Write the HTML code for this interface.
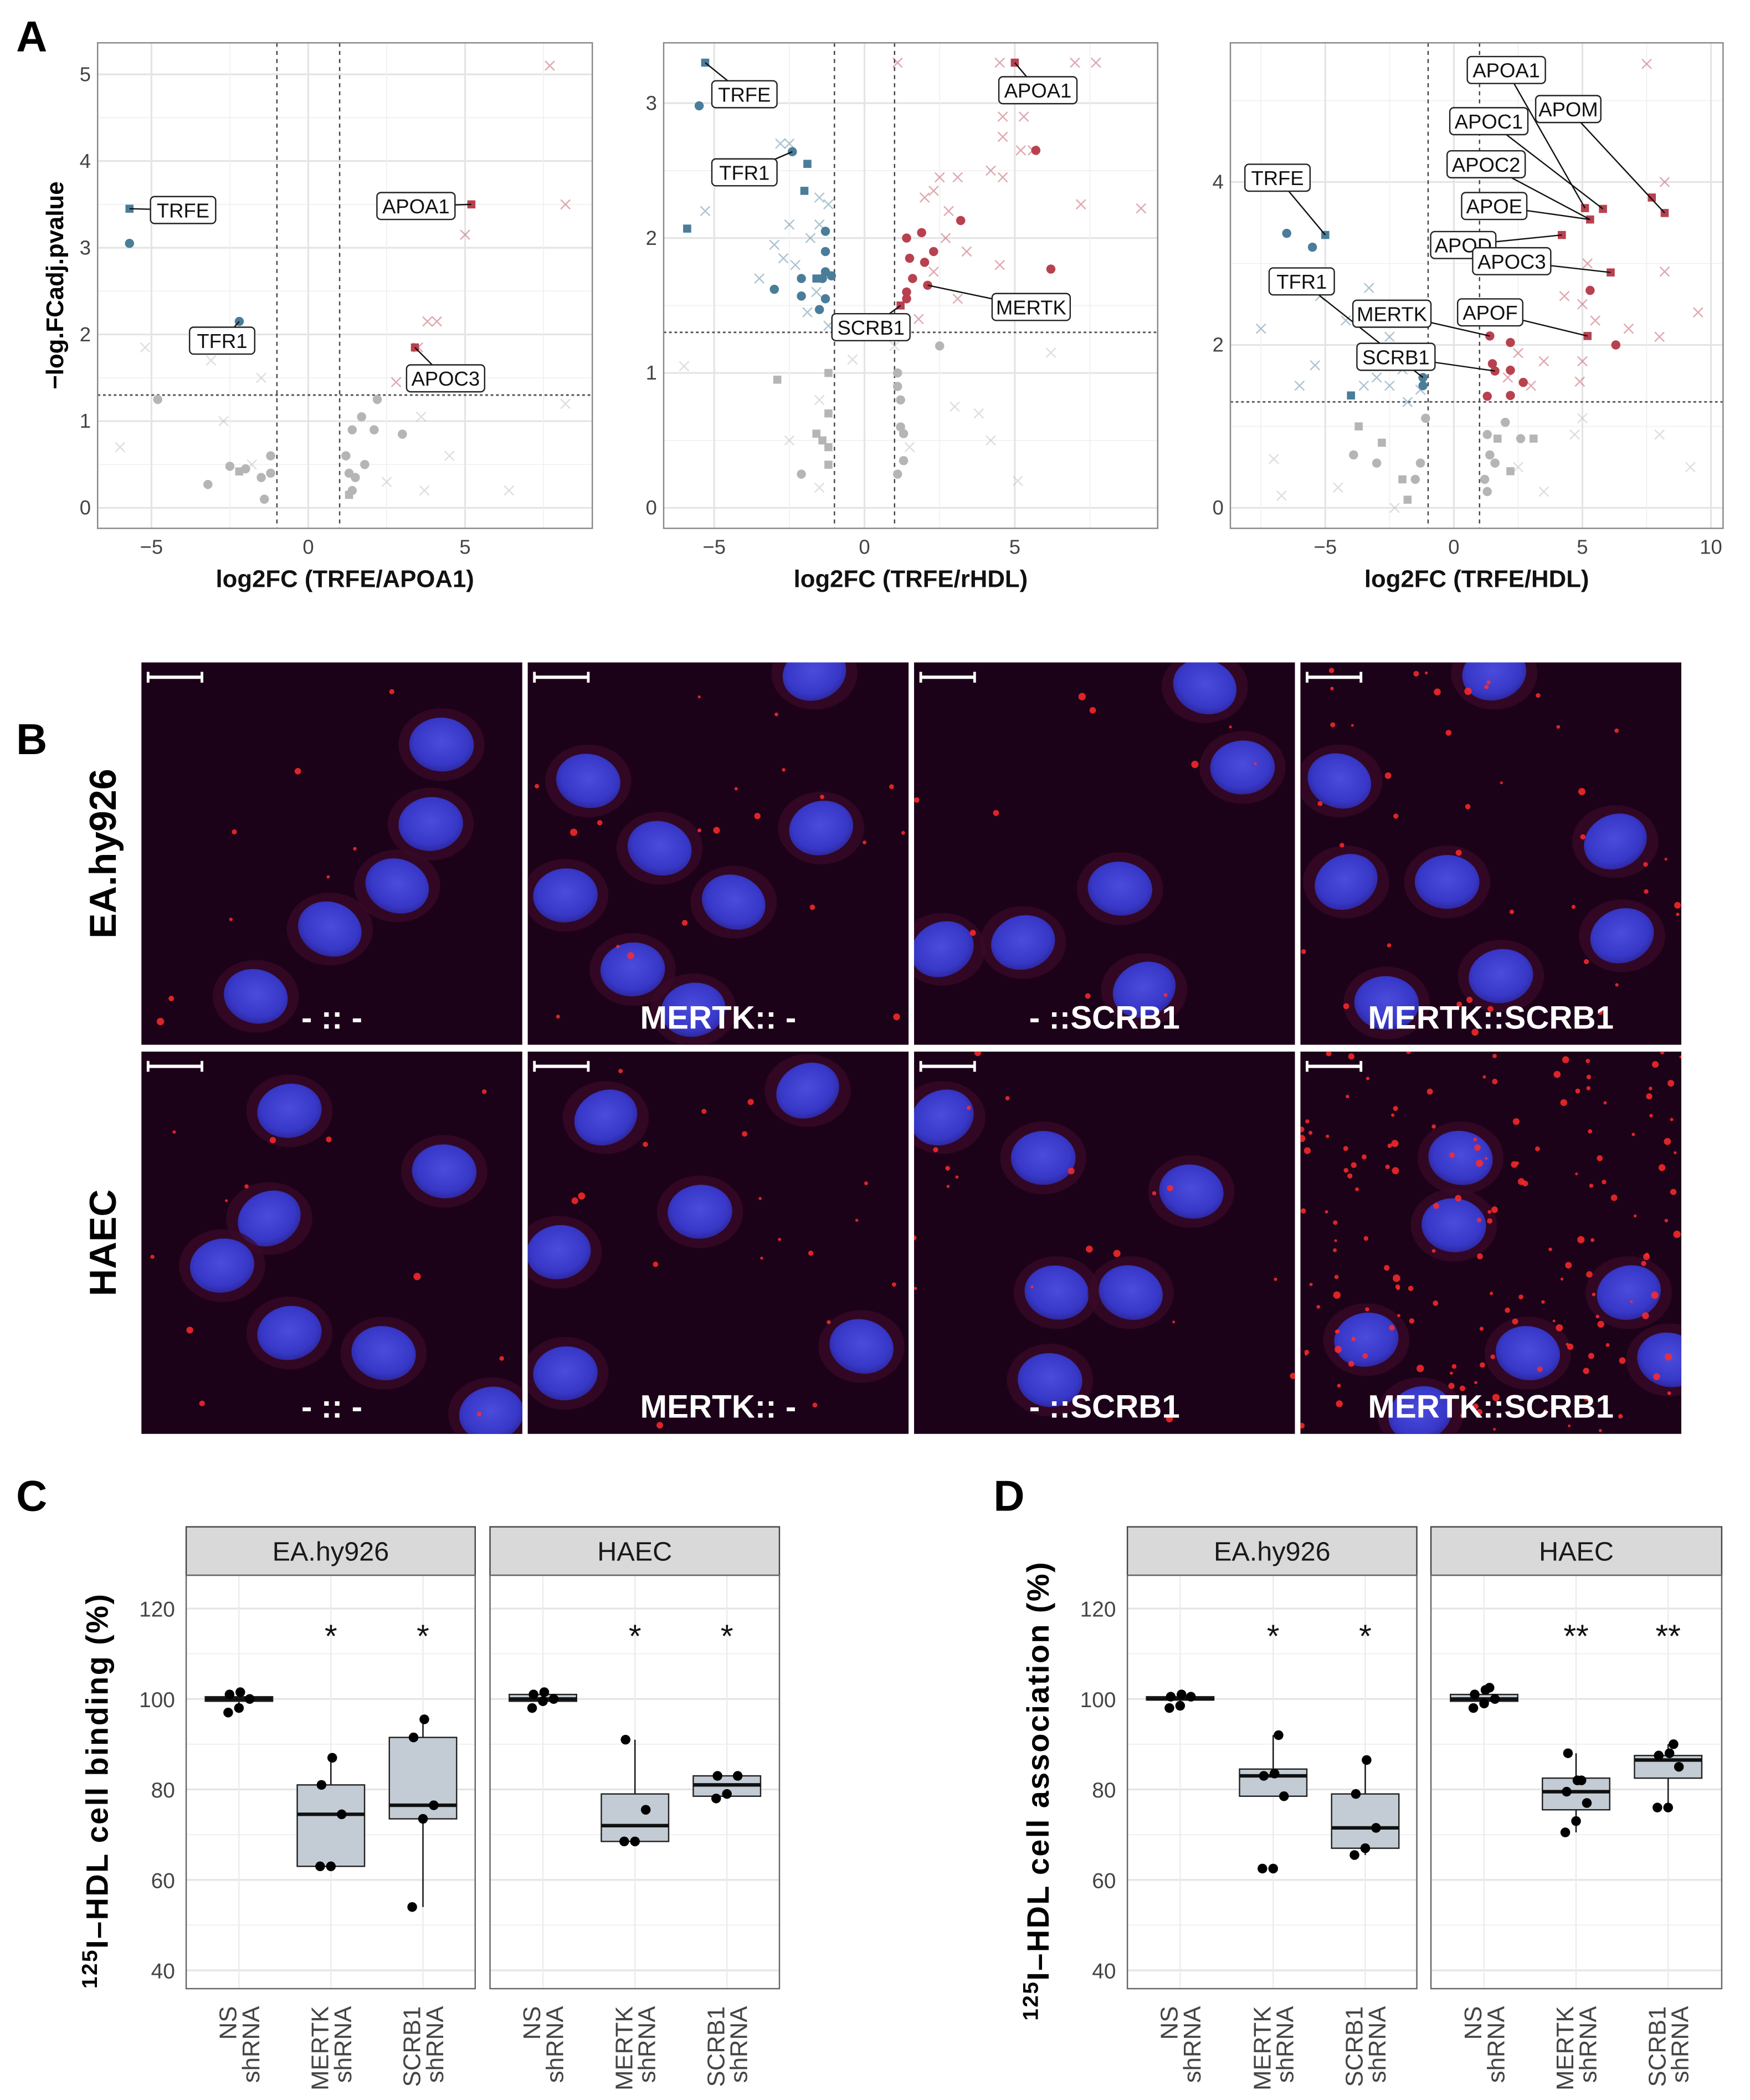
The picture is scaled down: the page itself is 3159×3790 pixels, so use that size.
<!DOCTYPE html>
<html><head><meta charset="utf-8"><style>
html,body{margin:0;padding:0;background:#fff}
svg{display:block}
text{font-family:"Liberation Sans",sans-serif}
</style></head><body>
<svg id="fig" xmlns="http://www.w3.org/2000/svg" width="3159" height="3790" viewBox="0 0 1300 1559.7">
<defs>
<radialGradient id="nuc" cx="50%" cy="45%" r="60%"><stop offset="0" stop-color="#4c4cdc"/><stop offset="0.7" stop-color="#3838c8"/><stop offset="1" stop-color="#2a2290"/></radialGradient>
</defs>
<rect width="1300" height="1560" fill="#fff"/>
<g id="panelA"></g>
<g id="panelB"></g>
<g id="panelCD"></g>
</svg>
<script>
// ---------- Panel A data ----------
const v1x=[-5.7,-5.7,-2.2,5.2,3.4,7.7,8.2,5,3.8,4.1,3.5,2.8,3.3,-5.2,-3.1,-1.5,-6,-2.7,3.6,4.5,6.4,3.7,8.2,-1.8,2.5,-4.8,-3.2,-2.5,-2.0,-1.5,-1.2,-1.2,-1.4,2.2,1.7,2.1,3,1.4,1.2,1.3,1.5,1.8,1.4,-2.2,1.3];
const v1y=[3.45,3.05,2.15,3.5,1.85,5.1,3.5,3.15,2.15,2.15,1.85,1.45,1.5,1.85,1.7,1.5,0.7,1.0,1.05,0.6,0.2,0.2,1.2,0.5,0.3,1.25,0.27,0.48,0.45,0.35,0.6,0.4,0.1,1.25,1.05,0.9,0.85,0.9,0.6,0.4,0.35,0.5,0.2,0.42,0.15];
const v1t=['bs','bc','bc','rs','rs','rx','rx','rx','rx','rx','rx','rx','rx','gx','gx','gx','gx','gx','gx','gx','gx','gx','gx','gx','gx','gc','gc','gc','gc','gc','gc','gc','gc','gc','gc','gc','gc','gc','gc','gc','gc','gc','gc','gs','gs'];
const v2x=[-5.3,-5.5,-2.4,-1.9,-2,-5.9,-1.3,-1.3,-1.3,-1.4,-2.1,-1.1,-3,-2.1,-1.3,-1.5,-1.6,5,5.7,6.2,3.2,1.9,1.4,2.3,1.5,2.0,1.6,1.4,2.1,1.4,1.2,1.1,4.5,7,7.7,5.3,4.6,4.6,5.6,5.2,4.2,2.5,3.1,4.6,7.2,9.2,2,2.3,3.4,4.5,2.8,2.7,1.8,3.1,2.3,-2.8,-2.5,-5.3,-1.5,-3,-2.5,-1.8,-1.2,-2.3,-1.6,-1.9,-3.5,-1.2,-2.7,-1.5,-2.9,-1.2,-1.4,-1.6,-1.2,-1.2,-1.2,-2.1,2.5,1.1,1.1,1.2,1.2,1.3,1.1,1.3,-6,-1.5,-2.5,1.5,3,4.2,5.1,6.2,3.8,-0.4,1,-1.5];
const v2y=[3.3,2.98,2.64,2.55,2.35,2.07,2.05,1.9,1.75,1.7,1.7,1.72,1.62,1.57,1.55,1.47,1.7,3.3,2.65,1.77,2.13,2.04,2.0,1.9,1.85,1.82,1.7,1.55,1.65,1.6,1.5,3.3,3.3,3.3,3.3,2.9,2.9,2.75,2.65,2.65,2.5,2.45,2.45,2.45,2.25,2.22,2.3,2.35,1.9,1.8,2.2,2.0,1.4,1.55,1.75,2.7,2.7,2.2,2.3,1.95,2.1,2.0,2.25,1.8,1.6,1.45,1.7,1.35,1.85,2.1,0.95,1.0,0.5,0.55,0.7,0.45,0.32,0.25,1.2,1.0,0.9,0.8,0.6,0.35,0.25,0.55,1.05,0.8,0.5,0.45,0.75,0.5,0.2,1.15,0.7,1.1,1.2,0.15];
const v2t=['bs','bc','bc','bs','bs','bs','bc','bc','bc','bc','bc','bc','bc','bc','bc','bc','bs','rs','rc','rc','rc','rc','rc','rc','rc','rc','rc','rc','rc','rc','rs','rx','rx','rx','rx','rx','rx','rx','rx','rx','rx','rx','rx','rx','rx','rx','rx','rx','rx','rx','rx','rx','rx','rx','rx','bx','bx','bx','bx','bx','bx','bx','bx','bx','bx','bx','bx','bx','bx','bx','gs','gs','gs','gs','gs','gs','gs','gc','gc','gc','gc','gc','gc','gc','gc','gc','gx','gx','gx','gx','gx','gx','gx','gx','gx','gx','gx','gx'];
const v3x=[-5,-6.5,-5.5,-4,-1.2,-1.2,5.1,5.8,5.3,8.2,7.7,4.2,6.1,5.2,5.3,6.3,1.4,2.2,1.6,2.2,2.7,2.2,1.3,1.5,7.5,8.2,8.2,9.5,5,5.5,8,6.8,3.5,2.5,4.9,3.0,5,2.1,4.3,5.2,-6,-3.3,-5.2,-7.5,-4.2,-2.5,-1.5,-1.5,-2.0,-3.0,-1.3,-2.5,-1.3,-5.4,-6,-3.5,-1.8,-3.7,-2.8,-2.0,-1.8,1.7,3.1,2.2,-3.9,-3.0,-1.3,-1.5,1.3,1.4,1.6,2.6,1.2,1.3,2.0,-1.1,-7,-4.5,-6.7,4.7,8,9.2,2.5,-2.3,3.5,5];
const v3y=[3.35,3.37,3.2,1.38,1.6,1.5,3.68,3.67,3.54,3.62,3.81,3.35,2.89,2.11,2.67,2.0,2.11,2.03,1.68,1.69,1.54,1.38,1.37,1.77,5.45,4.0,2.9,2.4,2.5,2.3,2.1,2.2,1.8,1.9,1.55,1.5,1.8,1.6,2.6,3.0,2.8,2.7,2.6,2.2,2.3,2.1,2.3,1.9,1.7,1.6,1.8,1.5,1.45,1.75,1.5,1.5,1.3,1.0,0.8,0.35,0.1,0.85,0.85,0.45,0.65,0.55,0.55,0.35,0.9,0.65,0.55,0.85,0.35,0.2,1.05,1.1,0.6,0.25,0.15,0.9,0.9,0.5,0.5,0.0,0.2,1.1];
const v3t=['bs','bc','bc','bs','bc','bc','rs','rs','rs','rs','rs','rs','rs','rs','rc','rc','rc','rc','rc','rc','rc','rc','rc','rc','rx','rx','rx','rx','rx','rx','rx','rx','rx','rx','rx','rx','rx','rx','rx','rx','bx','bx','bx','bx','bx','bx','bx','bx','bx','bx','bx','bx','bx','bx','bx','bx','bx','gs','gs','gs','gs','gs','gs','gs','gc','gc','gc','gc','gc','gc','gc','gc','gc','gc','gc','gc','gx','gx','gx','gx','gx','gx','gx','gx','gx','gx'];
const lab1=['TRFE','TFR1','APOA1','APOC3'];
const lab1x=[-5.7,-2.2,5.2,3.4];
const lab1y=[3.45,2.15,3.5,1.85];
const lab2=['TRFE','TFR1','APOA1','MERTK','SCRB1'];
const lab2x=[-5.3,-2.4,5,2.1,1.2];
const lab2y=[3.3,2.64,3.3,1.65,1.5];
const lab3=['TRFE','APOA1','APOM','APOC1','APOC2','APOE','APOD','APOC3','TFR1','MERTK','APOF','SCRB1'];
const lab3x=[-5,5.1,8.2,5.8,5.3,5.3,4.2,6.1,-1.2,1.4,5.2,1.6];
const lab3y=[3.35,3.68,3.62,3.67,3.54,3.54,3.35,2.89,1.6,2.11,2.11,1.68];

// ---------- Panel C/D data ----------
const cats=['NS','MERTK','SCRB1'];
const cellLines=['EA.hy926','HAEC'];
const yTicks=[40,60,80,100,120];
const cQ1=[99.5,63,73.5,99.5,68.5,78.5];
const cMed=[100,74.5,76.5,100,72,81];
const cQ3=[100.5,81,91.5,101,79,83];
const cLo=[99,63,54,99,68.5,78];
const cHi=[101,87,95.5,101.5,91,83];
const cPts=[[97,98,100,101,101.5],[63,63,74.5,81,87],[54,73.5,76.5,91.5,95.5],[98,99.5,100,101,101.5],[68.5,68.5,75.5,91],[78,79,83,83]];
const cStar=['','*','*','','*','*'];
const dQ1=[99.8,78.5,67,99.5,75.5,82.5];
const dMed=[100,83,71.5,100,79.5,86.5];
const dQ3=[100.5,84.5,79,101,82.5,87.5];
const dLo=[99.5,78.5,65.5,99.5,70.5,76];
const dHi=[101,92,86.5,102.5,88,90];
const dPts=[[98,98.5,100.5,100.5,101],[62.5,62.5,78.5,83,83.5,92],[65.5,67,71.5,79,86.5],[98,99,100,101,102,102.5],[70.5,73,77,79.5,82,82,88],[76,76,85,87.5,88,90]];
const dStar=['','*','*','','**','**'];

const NS='http://www.w3.org/2000/svg';
function el(tag,attrs,parent,txt){const e=document.createElementNS(NS,tag);for(const k in attrs)e.setAttribute(k,attrs[k]);if(txt!==undefined)e.textContent=txt;parent.appendChild(e);return e;}

const A=document.getElementById('panelA');
const pl=el('text',{x:12,y:38,'font-size':32,'font-weight':'bold'},A,'A');


const vols=[
 {px0:72.5,px1:440,x0:229,kx:23.3,yk:64.4,xT:[-5,0,5],xm:[-7.5,-2.5,2.5,7.5],yT:[0,1,2,3,4,5],xl:'log2FC (TRFE/APOA1)',xs:v1x,ys:v1y,ts:v1t,lab:lab1,lx:lab1x,ly:lab1y,
  boxes:[[136,156],[165,253],[309,153],[331,281]],name:'volcano-apoa1'},
 {px0:493,px1:860,x0:642.2,kx:22.33,yk:100.2,xT:[-5,0,5],xm:[-7.5,-2.5,2.5,7.5],yT:[0,1,2,3],xl:'log2FC (TRFE/rHDL)',xs:v2x,ys:v2y,ts:v2t,lab:lab2,lx:lab2x,ly:lab2y,
  boxes:[[553,70],[553,128],[771,67],[766,228],[647,243]],name:'volcano-rhdl'},
 {px0:914,px1:1280,x0:1080,kx:19.1,yk:60.5,xT:[-5,0,5,10],xm:[-7.5,-2.5,2.5,7.5],yT:[0,2,4],xl:'log2FC (TRFE/HDL)',xs:v3x,ys:v3y,ts:v3t,lab:lab3,lx:lab3x,ly:lab3y,
  boxes:[[949,132],[1119,52],[1165,81],[1106,90],[1104,122],[1110,153],[1087,182],[1123,194],[967,209],[1034,233],[1107,232],[1037,265]],name:'volcano-hdl'}
];
const col={b:'#4a7d99',r:'#b8414f',g:'#b5b5b5'};
vols.forEach((v,i)=>{
  const g=el('g',{},A);
  
  
  const X=d=>v.x0+d*v.kx, Y=d=>377.2-d*v.yk;
  const top=31.8,bot=392.4;
  el('rect',{x:v.px0,y:top,width:v.px1-v.px0,height:bot-top,fill:'#fff'},g);
  v.yT.forEach(t=>{el('line',{x1:v.px0,x2:v.px1,y1:Y(t),y2:Y(t),stroke:'#e4e4e4','stroke-width':1.3},g);
    const h=(v.yT[1]-v.yT[0])/2;
    if(Y(t+h)>top) el('line',{x1:v.px0,x2:v.px1,y1:Y(t+h),y2:Y(t+h),stroke:'#f0f0f0','stroke-width':0.7},g);
    const tl=el('text',{x:v.px0-5,y:Y(t)+5,'font-size':15,'text-anchor':'end',fill:'#444'},g,String(t));
    
    
  });
  v.xT.forEach(t=>{el('line',{x1:X(t),x2:X(t),y1:top,y2:bot,stroke:'#e4e4e4','stroke-width':1.3},g);
    const tl=el('text',{x:X(t),y:bot+19,'font-size':15,'text-anchor':'middle',fill:'#444'},g,t<0?'\u2212'+(-t):String(t));
    
    
  });
  v.xm.forEach(t=>{if(X(t)>v.px0&&X(t)<v.px1)el('line',{x1:X(t),x2:X(t),y1:top,y2:bot,stroke:'#f0f0f0','stroke-width':0.7},g);});
  el('line',{x1:X(-1),x2:X(-1),y1:top,y2:bot,stroke:'#444','stroke-dasharray':'3,3','stroke-width':1},g);
  el('line',{x1:X(1),x2:X(1),y1:top,y2:bot,stroke:'#444','stroke-dasharray':'3,3','stroke-width':1},g);
  el('line',{x1:v.px0,x2:v.px1,y1:Y(1.301),y2:Y(1.301),stroke:'#555','stroke-dasharray':'2,2','stroke-width':1.2},g);
  v.xs.forEach((d,j)=>{
    const t=v.ts[j],c=col[t[0]],cx=X(d),cy=Y(v.ys[j]);let m;
    if(t[1]==='c')m=el('circle',{cx:cx,cy:cy,r:3.4,fill:c},g);
    else if(t[1]==='s')m=el('rect',{x:cx-3,y:cy-3,width:6,height:6,fill:c},g);
    else m=el('path',{d:`M${cx-3.5},${cy-3.5}L${cx+3.5},${cy+3.5}M${cx-3.5},${cy+3.5}L${cx+3.5},${cy-3.5}`,stroke:c,'stroke-width':1,opacity:0.45,fill:'none'},g);
    
    
  });
  v.lab.forEach((L,j)=>{
    const [bx,by]=v.boxes[j];const w=L.length*9.6+10;
    el('line',{x1:bx,y1:by,x2:X(v.lx[j]),y2:Y(v.ly[j]),stroke:'#111','stroke-width':1},g);
    el('rect',{x:bx-w/2,y:by-10,width:w,height:20,rx:3,fill:'#fff',stroke:'#222','stroke-width':1},g);
    const tx=el('text',{x:bx,y:by+5.5,'font-size':15,'text-anchor':'middle',fill:'#111'},g,L);
    
    
  });
  el('rect',{x:v.px0,y:top,width:v.px1-v.px0,height:bot-top,fill:'none',stroke:'#888','stroke-width':1},g);
  const xt=el('text',{x:(v.px0+v.px1)/2,y:436,'font-size':18,'font-weight':'bold','text-anchor':'middle',fill:'#111'},g,v.xl);
  
  
});
const yt=el('text',{x:0,y:0,'font-size':18,'font-weight':'bold','text-anchor':'middle',transform:'translate(47,212) rotate(-90)'},A,'\u2212log.FCadj.pvalue');



// ---------- Panel B ----------
const B=document.getElementById('panelB');
const bl=el('text',{x:12,y:560,'font-size':32,'font-weight':'bold'},B,'B');


const r1=el('text',{x:0,y:0,'font-size':28,'font-weight':'bold','text-anchor':'middle',transform:'translate(86,634) rotate(-90)'},B,'EA.hy926');


const r2=el('text',{x:0,y:0,'font-size':28,'font-weight':'bold','text-anchor':'middle',transform:'translate(86,923) rotate(-90)'},B,'HAEC');


const imgX=[105,392,679,966],imgY=[492,781],iw=283,ih=284;
const capt=['- :: -','MERTK:: -','- ::SCRB1','MERTK::SCRB1'];
const nuclei=[
 [[328,553],[320,612],[295,658],[245,690],[190,740]],
 [[437,580],[490,630],[420,665],[610,615],[545,670],[470,720],[515,750],[605,500]],
 [[923,570],[832,660],[760,700],[700,705],[850,735],[895,510]],
 [[1110,500],[995,580],[1200,625],[1075,655],[1000,655],[1205,695],[1030,745],[1115,725]],
 [[215,825],[200,905],[330,870],[165,940],[215,990],[365,1050],[285,1005]],
 [[450,830],[600,810],[420,1020],[415,930],[520,900],[640,1000]],
 [[775,860],[885,885],[785,960],[780,1025],[840,960],[700,830]],
 [[1085,860],[1080,910],[1210,960],[1015,995],[1135,1005],[1055,1050],[1240,1010]]
];
const dots=[8,20,10,40,12,18,20,160];
let seed=7;function rnd(){seed=(seed*9301+49297)%233280;return seed/233280;}
for(let r=0;r<2;r++)for(let c=0;c<4;c++){
  const k=r*4+c,x0=imgX[c],y0=imgY[r];
  const g=el('g',{},B);
  
  
  el('clipPath',{id:'cp'+k},g);
  el('rect',{x:x0,y:y0,width:iw,height:ih},document.getElementById('cp'+k));
  const gg=el('g',{'clip-path':`url(#cp${k})`},g);
  el('rect',{x:x0,y:y0,width:iw,height:ih,fill:'#1c0218'},gg);
  nuclei[k].forEach(n=>{el('ellipse',{cx:n[0],cy:n[1],rx:32,ry:27,fill:'#3a0a2a',opacity:0.7},gg);
    el('ellipse',{cx:n[0],cy:n[1],rx:24,ry:20,fill:'url(#nuc)',transform:`rotate(${(n[0]%50)-25} ${n[0]} ${n[1]})`},gg);});
  for(let d=0;d<dots[k];d++){const dx=x0+rnd()*iw,dy=y0+rnd()*ih;
    el('circle',{cx:dx,cy:dy,r:1+rnd()*1.8,fill:'#ff2a2a',opacity:0.85},gg);}
  el('line',{x1:x0+5,x2:x0+45,y1:y0+11,y2:y0+11,stroke:'#fff','stroke-width':2.5},gg);
  el('line',{x1:x0+5,x2:x0+5,y1:y0+7,y2:y0+15,stroke:'#fff','stroke-width':2},gg);
  el('line',{x1:x0+45,x2:x0+45,y1:y0+7,y2:y0+15,stroke:'#fff','stroke-width':2},gg);
  const t=el('text',{x:x0+iw/2,y:y0+ih-12,'font-size':24,'font-weight':'bold','text-anchor':'middle',fill:'#fff'},g,capt[c]);
  
  
}

// ---------- Panels C & D ----------
const CD=document.getElementById('panelCD');
const Yb=v=>1463.4-(v-40)*3.359;
function boxPanel(name,letter,lx,ax,strips,catX,q1,md,q3,lo,hi,pts,stars,ytitle){
  const g=el('g',{},CD);
  
  
  const L=el('text',{x:lx,y:1122,'font-size':32,'font-weight':'bold'},g,letter);
  
  
  strips.forEach((s,si)=>{
    el('rect',{x:s[0],y:1134,width:s[1]-s[0],height:36,fill:'#d9d9d9',stroke:'#444','stroke-width':1},g);
    const st=el('text',{x:(s[0]+s[1])/2,y:1159,'font-size':20,'text-anchor':'middle',fill:'#1a1a1a'},g,cellLines[si]);
    
    
    el('rect',{x:s[0],y:1170,width:s[1]-s[0],height:307,fill:'#fff'},g);
    yTicks.forEach(t=>{el('line',{x1:s[0],x2:s[1],y1:Yb(t),y2:Yb(t),stroke:'#e4e4e4','stroke-width':1.3},g);
      if(t<120)el('line',{x1:s[0],x2:s[1],y1:Yb(t+10),y2:Yb(t+10),stroke:'#f0f0f0','stroke-width':0.8},g);});
    for(let c=0;c<3;c++)el('line',{x1:catX[si*3+c],x2:catX[si*3+c],y1:1170,y2:1477,stroke:'#ececec','stroke-width':1},g);
  });
  yTicks.forEach(t=>{const tl=el('text',{x:ax,y:Yb(t)+6,'font-size':16,'text-anchor':'end',fill:'#444'},g,String(t));
    
    });
  for(let i=0;i<6;i++){
    const cx=catX[i],w=25;
    el('line',{x1:cx,x2:cx,y1:Yb(lo[i]),y2:Yb(hi[i]),stroke:'#111','stroke-width':1},g);
    const bx=el('rect',{x:cx-w,y:Yb(q3[i]),width:2*w,height:Math.max(Yb(q1[i])-Yb(q3[i]),1.5),fill:'#c3ccd4',stroke:'#222','stroke-width':1},g);
    
    
    el('line',{x1:cx-w,x2:cx+w,y1:Yb(md[i]),y2:Yb(md[i]),stroke:'#111','stroke-width':2.6},g);
    pts[i].forEach((p,j)=>{const d=el('circle',{cx:cx+((j%3)-1)*6+((j*7)%5-2),cy:Yb(p),r:3.6,fill:'#000'},g);
      
      });
    if(stars[i]){const s=el('text',{x:cx,y:Yb(115)+12,'font-size':24,'text-anchor':'middle',fill:'#111'},g,stars[i]);
      
      }
    const t1=el('text',{x:0,y:0,'font-size':18,'text-anchor':'end',fill:'#444',transform:`translate(${cx-2},1490) rotate(-90)`},g,cats[i%3]);
    
    
    const t2=el('text',{x:0,y:0,'font-size':18,'text-anchor':'end',fill:'#444',transform:`translate(${cx+15},1490) rotate(-90)`},g,'shRNA');
    
    
  }
  strips.forEach(s=>el('rect',{x:s[0],y:1170,width:s[1]-s[0],height:307,fill:'none',stroke:'#666','stroke-width':1},g));
  const ytx=el('text',{x:0,y:0,'font-size':23,'font-weight':'bold','text-anchor':'middle','letter-spacing':'1',transform:`translate(${ax-50},1330) rotate(-90)`},g);
  
  
  el('tspan',{'font-size':16,dy:-8},ytx,'125');
  el('tspan',{dy:8},ytx,ytitle);
}
boxPanel('panel-c-binding','C',12,130,[[138.3,353],[364,579]],[177.5,245.8,314.2,403.3,471.7,540],cQ1,cMed,cQ3,cLo,cHi,cPts,cStar,'I\u2013HDL cell binding (%)');
boxPanel('panel-d-association','D',738,829,[[837.5,1052.5],[1063,1279]],[876.7,945.8,1014.2,1102.5,1170.8,1239.2],dQ1,dMed,dQ3,dLo,dHi,dPts,dStar,'I\u2013HDL cell association (%)');
</script>
</body></html>
